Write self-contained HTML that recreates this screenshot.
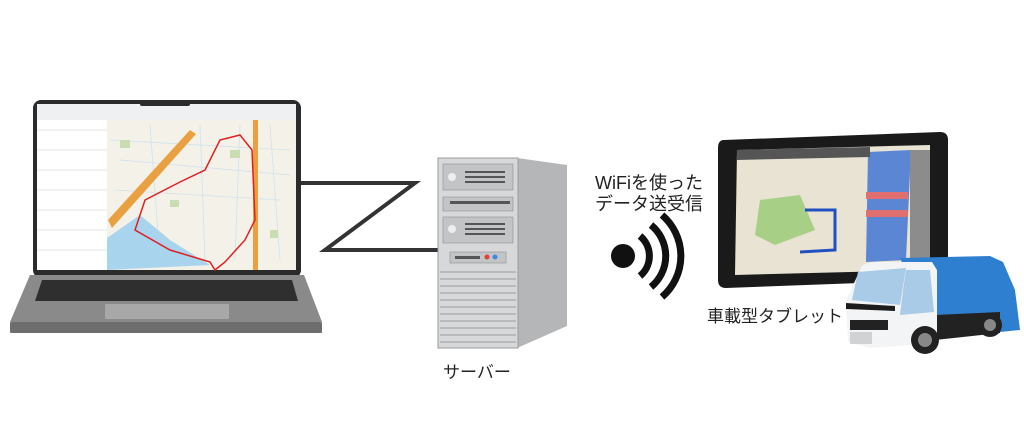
<!DOCTYPE html>
<html><head><meta charset="utf-8"><style>
html,body{margin:0;padding:0;background:#fff;}
svg{display:block;}
text{font-family:"Liberation Sans","Noto Sans CJK JP",sans-serif;fill:#222;}
</style></head><body>
<svg width="1024" height="432" viewBox="0 0 1024 432" xmlns="http://www.w3.org/2000/svg">
<!-- connector -->
<polyline points="300,183 415,183 325,250 438,250" fill="none" stroke="#333" stroke-width="4" stroke-linejoin="miter"/>
<!-- laptop -->
<rect x="33" y="100" width="268" height="178" rx="8" fill="#2b2b2b"/>
<rect x="37" y="104" width="259" height="166" fill="#fff"/>
<rect x="37" y="104" width="259" height="16" fill="#eef0f2"/>
<rect x="107" y="120" width="189" height="150" fill="#f4f1e8"/>
<g stroke="#cfe3f0" stroke-width="0.8" fill="none">
<path d="M110,140 L290,150 M120,160 L290,175 M115,190 L280,200 M150,125 L160,260 M200,125 L205,260 M240,125 L235,260 M270,125 L280,260"/>
</g>
<g fill="#c9ddb2"><rect x="230" y="150" width="10" height="8"/><rect x="170" y="200" width="9" height="7"/><rect x="270" y="230" width="8" height="8"/><rect x="120" y="140" width="10" height="8"/></g>
<path d="M107,238 L140,215 L170,240 L210,265 L107,270Z" fill="#a9d4ee"/>
<path d="M108,220 L190,130 L196,134 L112,228Z" fill="#e8a040"/>
<rect x="253" y="120" width="5" height="150" fill="#e8a040"/>
<path d="M240,135 L220,140 L205,170 L180,182 L145,200 L135,230 L170,250 L210,262 L215,270 L225,262 L245,240 L255,220 L252,150Z" fill="none" stroke="#e02020" stroke-width="1.5"/>
<g stroke="#ccc" stroke-width="0.5">
<line x1="37" y1="130" x2="107" y2="130"/><line x1="37" y1="150" x2="107" y2="150"/><line x1="37" y1="170" x2="107" y2="170"/><line x1="37" y1="190" x2="107" y2="190"/><line x1="37" y1="210" x2="107" y2="210"/><line x1="37" y1="230" x2="107" y2="230"/><line x1="37" y1="250" x2="107" y2="250"/>
</g>
<rect x="140" y="100" width="50" height="6" rx="2" fill="#2b2b2b"/>
<path d="M30,275 L304,275 L322,322 L322,333 L10,333 L10,322Z" fill="#8a8a8a"/>
<rect x="10" y="322" width="312" height="11" rx="3" fill="#6d6d6d"/>
<path d="M42,280 L292,280 L298,301 L35,301Z" fill="#2f2f2f"/>
<rect x="105" y="304" width="124" height="15" rx="1" fill="#a8a8a8"/>
<!-- server -->
<path d="M517,158 L567,165 L567,326 L517,348Z" fill="#b4b6b8"/>
<rect x="438" y="158" width="80" height="190" fill="#d6d8da"/>
<rect x="438" y="158" width="80" height="190" fill="none" stroke="#9a9c9e"/>
<g fill="#c2c4c6" stroke="#999" stroke-width="0.7">
<rect x="443" y="164" width="70" height="26"/><rect x="443" y="197" width="70" height="14"/><rect x="443" y="217" width="70" height="26"/><rect x="450" y="252" width="56" height="11"/>
</g>
<circle cx="452" cy="177" r="4" fill="#eee"/><circle cx="452" cy="229" r="4" fill="#eee"/>
<g fill="#555"><rect x="465" y="171" width="40" height="2"/><rect x="465" y="176" width="40" height="2"/><rect x="465" y="181" width="40" height="2"/><rect x="465" y="223" width="40" height="2"/><rect x="465" y="228" width="40" height="2"/><rect x="465" y="233" width="40" height="2"/><rect x="450" y="201" width="60" height="3"/><rect x="455" y="256" width="25" height="3"/></g>
<circle cx="487" cy="257" r="2.5" fill="#e04040"/><circle cx="495" cy="257" r="2.5" fill="#3c8ce0"/>
<g stroke="#9a9c9e" stroke-width="1">
<line x1="440" y1="272" x2="516" y2="272"/><line x1="440" y1="279" x2="516" y2="279"/><line x1="440" y1="286" x2="516" y2="286"/><line x1="440" y1="293" x2="516" y2="293"/><line x1="440" y1="300" x2="516" y2="300"/><line x1="440" y1="307" x2="516" y2="307"/><line x1="440" y1="314" x2="516" y2="314"/><line x1="440" y1="321" x2="516" y2="321"/><line x1="440" y1="328" x2="516" y2="328"/><line x1="440" y1="335" x2="516" y2="335"/><line x1="440" y1="342" x2="516" y2="342"/>
</g>
<text x="443" y="378" font-size="17">サーバー</text>
<!-- wifi -->
<text x="595" y="189" font-size="18">WiFiを使った</text>
<text x="595" y="210" font-size="18">データ送受信</text>
<circle cx="623" cy="256" r="12" fill="#111"/>
<g fill="none" stroke="#111" stroke-width="7">
<path d="M640,236 A26,26 0 0 1 640,276"/>
<path d="M651,225 A40,40 0 0 1 651,287"/>
<path d="M662,215 A54,54 0 0 1 662,297"/>
</g>
<!-- tablet -->
<path d="M724,140 L940,132 Q948,132 948,140 L948,272 Q948,280 940,280 L726,288 Q718,288 718,280 L718,148 Q718,140 724,140Z" fill="#1a1a1a"/>
<path d="M737,150 L930,145 L930,270 L735,275Z" fill="#e9e3d3"/>
<path d="M760,200 L800,195 L815,230 L775,245 L755,235Z" fill="#a8cf86"/>
<path d="M868,152 L911,150 L906,260 L866,262Z" fill="#5a86d4"/>
<rect x="866" y="192" width="42" height="7" fill="#e07070"/><rect x="866" y="210" width="42" height="7" fill="#e07070"/>
<rect x="910" y="150" width="20" height="120" fill="#8c8c8c"/>
<path d="M737,150 L870,147 L870,157 L737,160Z" fill="#555"/>
<path d="M805,210 L835,210 L835,250 L800,252" fill="none" stroke="#2050c0" stroke-width="3"/>
<!-- truck -->
<path d="M900,258 L990,256 L1003,262 L1015,290 L1020,330 L1000,332 L935,335Z" fill="#2f7fd0"/>
<path d="M935,315 L1000,312 L1000,333 L935,340Z" fill="#222"/>
<path d="M862,266 Q866,262 880,262 L932,262 L937,270 L937,343 L870,348 L848,342 L846,300Z" fill="#f2f4f6"/>
<path d="M852,300 L858,272 L906,268 L900,305Z" fill="#a9cbe8"/>
<path d="M903,290 L906,270 L930,270 L934,312 L900,315Z" fill="#a9cbe8"/>
<path d="M846,303 L895,306 L895,311 L846,309Z" fill="#1c1c1c"/>
<rect x="850" y="320" width="38" height="10" fill="#222"/>
<rect x="850" y="332" width="22" height="12" fill="#d0d2d4"/>
<circle cx="925" cy="340" r="14" fill="#222"/><circle cx="925" cy="340" r="7" fill="#888"/>
<circle cx="990" cy="325" r="12" fill="#222"/><circle cx="990" cy="325" r="6" fill="#888"/>
<text x="707" y="322" font-size="17">車載型タブレット</text>
</svg>
</body></html>
